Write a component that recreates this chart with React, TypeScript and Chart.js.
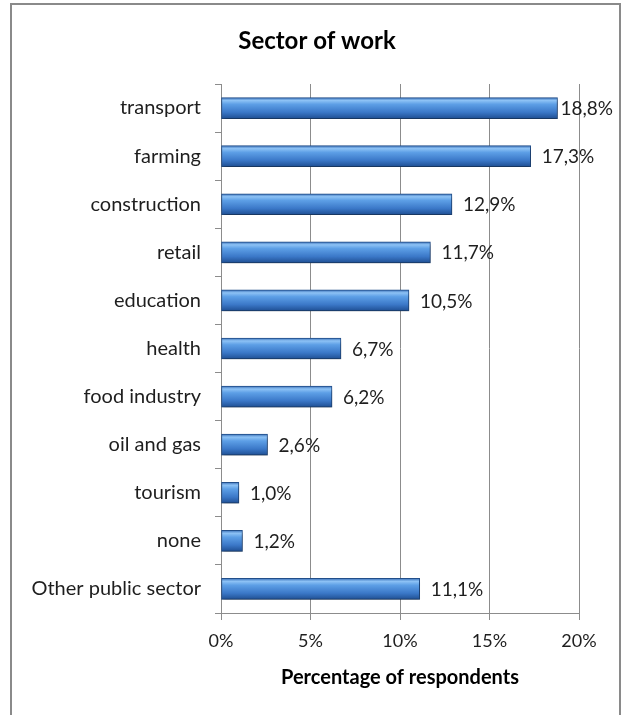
import React, { useEffect, useRef } from "react";
import { Chart, registerables } from "chart.js";

Chart.register(...registerables);

const categories = [
  "transport",
  "farming",
  "construction",
  "retail",
  "education",
  "health",
  "food industry",
  "oil and gas",
  "tourism",
  "none",
  "Other public sector",
];
const values = [18.8, 17.3, 12.9, 11.7, 10.5, 6.7, 6.2, 2.6, 1.0, 1.2, 11.1];
const xTicks = [0, 5, 10, 15, 20];
const chartTitle = "Sector of work";
const axisTitle = "Percentage of respondents";

const FONT = "Lato, 'Noto Sans', sans-serif";

const decor = {
  id: "decor",
  beforeDraw(chart: any) {
    const c = chart.ctx;
    c.save();
    c.fillStyle = "#ffffff";
    c.fillRect(0, 0, chart.width, chart.height);
    c.strokeStyle = "#8a8a8a";
    c.lineWidth = 2;
    c.strokeRect(11, 4, 609, 740);
    c.fillStyle = "#000000";
    c.font = `bold 24px ${FONT}`;
    c.textAlign = "center";
    c.textBaseline = "middle";
    c.fillText(chartTitle, 317, 41);
    const ca = chart.chartArea;
    c.font = `bold 20px ${FONT}`;
    c.fillText(axisTitle, (ca.left + ca.right) / 2, 678);
    c.restore();
  },
  beforeDatasetsDraw(chart: any) {
    const c = chart.ctx;
    c.save();
    c.shadowColor = "rgba(0,0,0,0.35)";
    c.shadowBlur = 4;
    c.shadowOffsetX = 1;
    c.shadowOffsetY = 3;
  },
  afterDatasetsDraw(chart: any) {
    const c = chart.ctx;
    c.restore();
    c.save();
    const meta = chart.getDatasetMeta(0);
    c.font = `19px ${FONT}`;
    c.fillStyle = "#1e1e1e";
    c.textAlign = "left";
    c.textBaseline = "middle";
    meta.data.forEach((bar: any, i: number) => {
      const txt = values[i].toFixed(1).replace(".", ",") + "%";
      const w = c.measureText(txt).width;
      let x = bar.x + 11;
      if (x + w > 613) x = 613 - w;
      c.fillText(txt, x, bar.y + 1);
    });
    c.restore();
  },
};

export default function App() {
  const ref = useRef<HTMLCanvasElement>(null);
  useEffect(() => {
    document.body.style.margin = "0";
    const chart = new Chart(ref.current!, {
      type: "bar",
      data: {
        labels: categories,
        datasets: [
          {
            data: values,
            barThickness: 21,
            borderWidth: 1,
            borderColor: "#23508c",
            borderSkipped: false,
            backgroundColor: (ctx: any) => {
              const ch = ctx.chart;
              const ys = ch.scales && ch.scales.y;
              if (!ys || ctx.dataIndex === undefined) return "#3d78c4";
              const y = ys.getPixelForValue(ctx.dataIndex);
              if (!isFinite(y)) return "#3d78c4";
              const g = ch.ctx.createLinearGradient(0, y - 10.5, 0, y + 10.5);
              g.addColorStop(0, "#3a70b8");
              g.addColorStop(0.14, "#8dc2f5");
              g.addColorStop(0.32, "#5d9fe6");
              g.addColorStop(0.7, "#3b78c8");
              g.addColorStop(1, "#1f4f93");
              return g;
            },
          },
        ],
      },
      options: {
        indexAxis: "y",
        responsive: false,
        animation: false,
        devicePixelRatio: 1,
        layout: { padding: { left: 0, right: 45, top: 84, bottom: 0 } },
        plugins: {
          legend: { display: false },
          title: { display: false },
          tooltip: { enabled: false },
        },
        scales: {
          x: {
            min: 0,
            max: 20,
            afterFit: (s: any) => {
              s.height = 102;
            },
            afterBuildTicks: (s: any) => {
              s.ticks = xTicks.map((v) => ({ value: v }));
            },
            grid: {
              color: "#8c8c8c",
              lineWidth: 1,
              tickLength: 7,
              drawOnChartArea: true,
            },
            border: { color: "#8c8c8c" },
            ticks: {
              color: "#1e1e1e",
              font: { family: FONT, size: 18 },
              padding: 10,
              callback: (v: any) => v + "%",
            },
          },
          y: {
            afterFit: (s: any) => {
              s.width = 221;
            },
            grid: {
              offset: true,
              drawOnChartArea: false,
              tickLength: 6,
              color: "#8c8c8c",
            },
            border: { color: "#8c8c8c" },
            ticks: {
              color: "#1e1e1e",
              font: { family: FONT, size: 20 },
              padding: 14,
            },
          },
        },
      },
      plugins: [decor],
    });
    return () => chart.destroy();
  }, []);
  return (
    <div style={{ width: 624, height: 715, position: "relative" }}>
      <canvas ref={ref} width={624} height={715} />
    </div>
  );
}
